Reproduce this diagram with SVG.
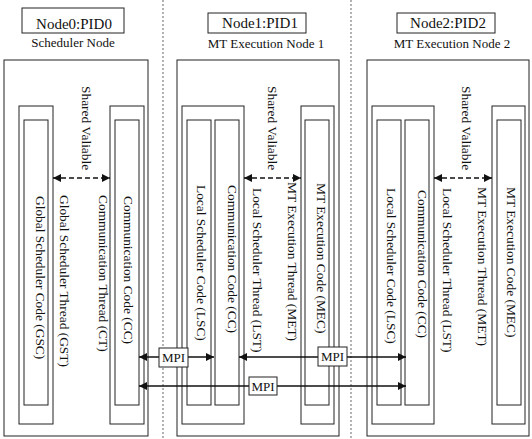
<svg xmlns="http://www.w3.org/2000/svg" width="532" height="439" viewBox="0 0 532 439">
<style>
.box{fill:none;stroke:#222;stroke-width:1}
.lbl{fill:#fff;stroke:#222;stroke-width:1}
.t{fill:#111}
.title{font-size:15px;text-anchor:middle}
.sub{font-size:13px;text-anchor:middle}
.v{font-size:13.4px}
.sep{stroke:#666;stroke-width:1;stroke-dasharray:2,2}
.mpi{stroke:#111;stroke-width:1.3;fill:none;marker-start:url(#ah);marker-end:url(#ah)}
.sv{stroke:#111;stroke-width:1.5;stroke-dasharray:5,3;fill:none;marker-start:url(#ah);marker-end:url(#ah)}
</style>
<defs>
<marker id="ah" markerUnits="userSpaceOnUse" markerWidth="9" markerHeight="8" refX="8" refY="4" orient="auto-start-reverse">
<path d="M0,0 L8,4 L0,8 z" fill="#111"/>
</marker>
</defs>
<rect width="532" height="439" fill="#fff"/>
<g font-family="Liberation Serif, DejaVu Serif, Times New Roman, serif">
<g id="separators">
<line class="sep" x1="163" y1="0" x2="163" y2="439"/>
<line class="sep" x1="351" y1="0" x2="351" y2="439"/>
</g>
<g id="node0">
<rect class="box" x="22" y="8" width="102" height="25"/>
<text class="t title" x="74" y="29">Node0:PID0</text>
<text class="t sub" x="73" y="47">Scheduler Node</text>
<rect class="box" x="4" y="60" width="144" height="376"/>
<rect class="box" x="19" y="106" width="34" height="318"/>
<rect class="box" x="24" y="120" width="24" height="285"/>
<rect class="box" x="110" y="106" width="34" height="318"/>
<rect class="box" x="115" y="120" width="24" height="285"/>
<text class="t v" transform="translate(82,86) rotate(90)">Shared Valiable</text>
<text class="t v" transform="translate(36,196) rotate(90)">Global Scheduler Code (GSC)</text>
<text class="t v" transform="translate(60,195) rotate(90)">Global Scheduler Thread (GST)</text>
<text class="t v" transform="translate(99,195) rotate(90)">Communication Thread (CT)</text>
<text class="t v" transform="translate(124,196) rotate(90)">Communication Code (CC)</text>
</g>
<g id="node1">
<rect class="box" x="208" y="13" width="98" height="20"/>
<text class="t title" x="260" y="28">Node1:PID1</text>
<text class="t sub" x="266" y="48">MT Execution Node 1</text>
<rect class="box" x="177" y="60" width="162" height="376"/>
<rect class="box" x="182" y="106" width="62" height="318"/>
<rect class="box" x="187" y="120" width="24" height="285"/>
<rect class="box" x="215" y="120" width="24" height="285"/>
<rect class="box" x="301" y="106" width="33" height="318"/>
<rect class="box" x="305" y="120" width="24" height="285"/>
<text class="t v" transform="translate(268,86) rotate(90)">Shared Valiable</text>
<text class="t v" transform="translate(197,185) rotate(90)">Local Scheduler Code (LSC)</text>
<text class="t v" transform="translate(228,185) rotate(90)">Communication Code (CC)</text>
<text class="t v" transform="translate(253,188) rotate(90)">Local Scheduler Thread (LST)</text>
<text class="t v" transform="translate(288,182) rotate(90)">MT Execution Thread (MET)</text>
<text class="t v" transform="translate(317,183) rotate(90)">MT Execution Code (MEC)</text>
</g>
<g id="node2">
<rect class="box" x="397" y="13" width="98" height="20"/>
<text class="t title" x="448" y="28">Node2:PID2</text>
<text class="t sub" x="452" y="48">MT Execution Node 2</text>
<rect class="box" x="367" y="60" width="162" height="376"/>
<rect class="box" x="372" y="106" width="62" height="318"/>
<rect class="box" x="377" y="120" width="24" height="285"/>
<rect class="box" x="405" y="120" width="24" height="285"/>
<rect class="box" x="492" y="106" width="33" height="318"/>
<rect class="box" x="497" y="120" width="24" height="285"/>
<text class="t v" transform="translate(462,86) rotate(90)">Shared Valiable</text>
<text class="t v" transform="translate(387,188) rotate(90)">Local Scheduler Code (LSC)</text>
<text class="t v" transform="translate(418,190) rotate(90)">Communication Code (CC)</text>
<text class="t v" transform="translate(443,188) rotate(90)">Local Scheduler Thread (LST)</text>
<text class="t v" transform="translate(478,187) rotate(90)">MT Execution Thread (MET)</text>
<text class="t v" transform="translate(507,187) rotate(90)">MT Execution Code (MEC)</text>
</g>
<g id="connectors">
<line class="sv" x1="53" y1="178" x2="110" y2="178"/>
<line class="sv" x1="244" y1="178" x2="301" y2="178"/>
<line class="sv" x1="434" y1="178" x2="492" y2="178"/>
<line class="mpi" x1="139" y1="357" x2="214" y2="357"/>
<line class="mpi" x1="239" y1="357" x2="406" y2="357"/>
<line class="mpi" x1="139" y1="386" x2="406" y2="386"/>
<rect class="lbl" x="159" y="348" width="29" height="19"/>
<text class="t sub" x="173.5" y="362">MPI</text>
<rect class="lbl" x="318" y="347" width="29" height="19"/>
<text class="t sub" x="332.5" y="361">MPI</text>
<rect class="lbl" x="249" y="377" width="28" height="18"/>
<text class="t sub" x="263" y="391">MPI</text>
</g>
</g>
</svg>
